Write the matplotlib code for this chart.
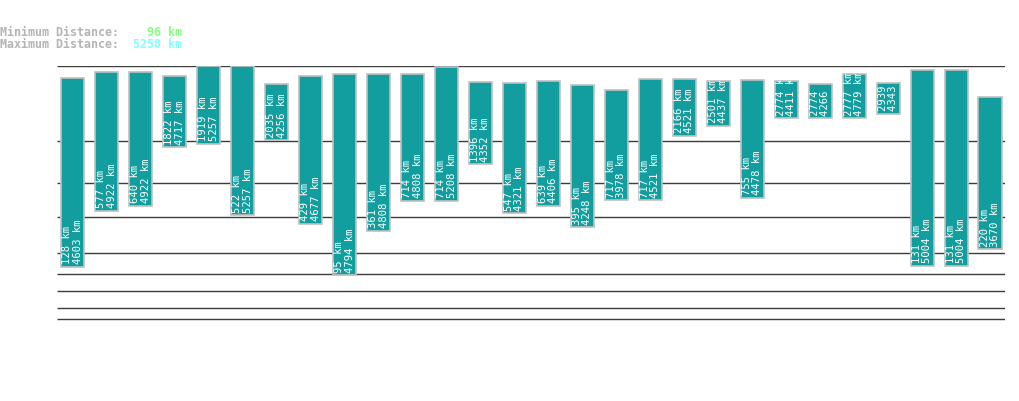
import matplotlib.pyplot as plt
import numpy as np

# min / max distance per route (km)
min_km = [128, 577, 640, 1822, 1919, 522, 2035, 429, 95, 361, 714, 714, 1396, 547,
          639, 395, 717, 717, 2166, 2501, 755, 2774, 2774, 2777, 2939, 131, 131, 220]
max_km = [4603, 4922, 4922, 4717, 5257, 5257, 4256, 4677, 4794, 4808, 4808, 5208, 4352, 4321,
          4406, 4248, 3978, 4521, 4521, 4437, 4478, 4411, 4266, 4779, 4343, 5004, 5004, 3670]
grid_km = [10, 20, 50, 100, 200, 500, 1000, 2000, 5258]
overall_min = 96
overall_max = 5258

P = 0.3


def fwd(v):
    v = np.asarray(v, dtype=float)
    return np.sign(v) * np.abs(v) ** P


def inv(v):
    v = np.asarray(v, dtype=float)
    return np.sign(v) * np.abs(v) ** (1 / P)


W, H = 1019, 402
fig = plt.figure(figsize=(W / 100, H / 100), dpi=100)
ax = fig.add_axes([57 / W, (H - 365.6) / H, (1005 - 57) / W, (365.6 - 67) / H])
ax.set_yscale('function', functions=(fwd, inv))
ax.set_ylim(0, overall_max)
ax.set_xlim(-0.456, 27.44)
ax.axis('off')

ax.hlines(grid_km, -0.456, 27.44, color='#3c3c3c', linewidth=1, zorder=1)

x = np.arange(len(min_km))
lo = np.array(min_km)
hi = np.array(max_km)
bars = ax.bar(x, hi - lo, bottom=lo, width=0.68, color='#129e9e',
              edgecolor='#c0c0c0', linewidth=1.2, zorder=2)

for xi, a, b, rect in zip(x, min_km, max_km, bars):
    t = ax.annotate(f"{a} km\n{b} km", (xi, a), xytext=(0, 2.5), textcoords='offset points',
                    rotation=90, ha='center', va='bottom', multialignment='left',
                    color='white', fontsize=7.6, family='DejaVu Sans Mono',
                    linespacing=1.05, zorder=3)
    t.set_clip_path(rect)

hdr = dict(family='DejaVu Sans Mono', fontsize=8.4, fontweight='bold', va='center')
fig.text(0, 1 - 32 / H, "Minimum Distance:", color='#b4b4b4', ha='left', **hdr)
fig.text(0, 1 - 44 / H, "Maximum Distance:", color='#b4b4b4', ha='left', **hdr)
fig.text(182 / W, 1 - 32 / H, f"{overall_min} km", color='#80ff80', ha='right', **hdr)
fig.text(182 / W, 1 - 44 / H, f"{overall_max} km", color='#80ffff', ha='right', **hdr)

fig.savefig('out.png', dpi=100)
